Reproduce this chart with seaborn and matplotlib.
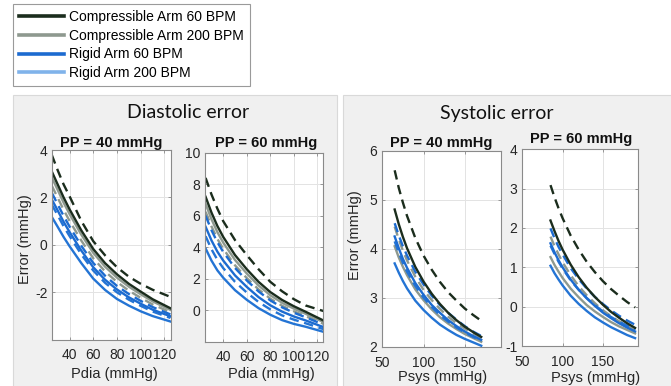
import matplotlib
matplotlib.use("Agg")
import matplotlib.pyplot as plt
import seaborn as sns
import pandas as pd
from matplotlib.lines import Line2D
from matplotlib.patches import Rectangle

plt.rcParams['font.family'] = ['Liberation Sans', 'DejaVu Sans']
plt.rcParams['axes.unicode_minus'] = False

# ---------------- data ----------------
legend_labels = ["Compressible Arm 60 BPM", "Compressible Arm 200 BPM",
                 "Rigid Arm 60 BPM", "Rigid Arm 200 BPM"]
panel_titles = ["Diastolic error", "Systolic error"]
sub_titles = ["PP = 40 mmHg", "PP = 60 mmHg", "PP = 40 mmHg", "PP = 60 mmHg"]
x_labels = ["Pdia (mmHg)", "Pdia (mmHg)", "Psys (mmHg)", "Psys (mmHg)"]
y_label = "Error (mmHg)"

pdia = [25, 30, 35, 40, 50, 60, 70, 80, 90, 100, 110, 125]
psys_pp40 = [65, 70, 75, 80, 90, 100, 110, 120, 130, 140, 150, 160, 170]
psys_pp60 = [85, 90, 95, 100, 110, 120, 130, 140, 150, 160, 170, 180, 190]

# Diastolic error, PP = 40
dia40_c60 = [3.10, 2.55, 2.00, 1.50, 0.60, -0.18, -0.78, -1.25, -1.65, -1.98, -2.30, -2.68]
dia40_c60_d = [3.80, 3.15, 2.55, 2.05, 1.00, 0.15, -0.45, -0.95, -1.35, -1.65, -1.90, -2.20]
dia40_c200 = [2.85, 2.32, 1.78, 1.30, 0.42, -0.34, -0.93, -1.39, -1.77, -2.09, -2.39, -2.75]
dia40_c200_d = [2.50, 1.99, 1.48, 1.01, 0.17, -0.57, -1.13, -1.57, -1.94, -2.24, -2.52, -2.85]
dia40_r60 = [1.92, 1.45, 0.97, 0.54, -0.25, -0.95, -1.48, -1.89, -2.22, -2.49, -2.74, -3.02]
dia40_r60_d = [2.20, 1.71, 1.22, 0.77, -0.05, -0.77, -1.31, -1.74, -2.08, -2.37, -2.63, -2.94]
dia40_r200 = [1.18, 0.76, 0.33, -0.06, -0.78, -1.43, -1.91, -2.29, -2.57, -2.81, -3.01, -3.24]
dia40_r200_d = [1.70, 1.25, 0.78, 0.37, -0.41, -1.09, -1.61, -2.01, -2.32, -2.58, -2.82, -3.09]

# Diastolic error, PP = 60
dia60_c60 = [7.20, 6.20, 5.35, 4.65, 3.50, 2.60, 1.80, 1.15, 0.65, 0.25, -0.10, -0.65]
dia60_c60_d = [8.40, 7.35, 6.45, 5.65, 4.45, 3.50, 2.60, 1.80, 1.20, 0.70, 0.30, -0.05]
dia60_c200 = [6.75, 5.78, 4.96, 4.29, 3.19, 2.33, 1.57, 0.95, 0.47, 0.10, -0.23, -0.75]
dia60_c200_d = [6.25, 5.32, 4.53, 3.90, 2.85, 2.04, 1.32, 0.73, 0.28, -0.07, -0.38, -0.86]
dia60_r60 = [5.30, 4.43, 3.72, 3.15, 2.21, 1.48, 0.83, 0.31, -0.09, -0.40, -0.65, -1.07]
dia60_r60_d = [6.00, 5.08, 4.32, 3.70, 2.68, 1.89, 1.19, 0.62, 0.18, -0.16, -0.45, -0.91]
dia60_r200 = [3.92, 3.15, 2.53, 2.06, 1.27, 0.66, 0.13, -0.29, -0.63, -0.87, -1.05, -1.37]
dia60_r200_d = [4.70, 3.87, 3.20, 2.67, 1.80, 1.12, 0.52, 0.05, -0.33, -0.60, -0.83, -1.20]

# Systolic error, PP = 40
sys40_c60 = [4.80, 4.50, 4.24, 4.01, 3.63, 3.33, 3.08, 2.87, 2.69, 2.54, 2.41, 2.30, 2.20]
sys40_c60_d = [5.60, 5.24, 4.94, 4.67, 4.22, 3.86, 3.57, 3.32, 3.11, 2.94, 2.78, 2.65, 2.53]
sys40_c200 = [4.05, 3.82, 3.63, 3.46, 3.17, 2.95, 2.76, 2.60, 2.47, 2.36, 2.26, 2.18, 2.10]
sys40_c200_d = [4.45, 4.19, 3.96, 3.76, 3.43, 3.16, 2.95, 2.77, 2.61, 2.48, 2.37, 2.27, 2.18]
sys40_r60 = [4.25, 4.01, 3.79, 3.61, 3.30, 3.06, 2.85, 2.69, 2.54, 2.42, 2.31, 2.22, 2.14]
sys40_r60_d = [4.52, 4.27, 4.05, 3.86, 3.53, 3.27, 3.04, 2.85, 2.69, 2.55, 2.42, 2.31, 2.22]
sys40_r200 = [3.70, 3.51, 3.34, 3.19, 2.94, 2.75, 2.59, 2.45, 2.34, 2.24, 2.16, 2.09, 2.02]
sys40_r200_d = [4.15, 3.92, 3.71, 3.53, 3.24, 3.00, 2.81, 2.64, 2.51, 2.39, 2.29, 2.20, 2.12]

# Systolic error, PP = 60
sys60_c60 = [2.19, 1.92, 1.67, 1.45, 1.07, 0.75, 0.48, 0.25, 0.05, -0.13, -0.28, -0.42, -0.54]
sys60_c60_d = [3.09, 2.78, 2.50, 2.25, 1.81, 1.45, 1.14, 0.88, 0.65, 0.45, 0.28, 0.12, -0.02]
sys60_c200 = [1.26, 1.06, 0.89, 0.73, 0.46, 0.24, 0.04, -0.12, -0.26, -0.39, -0.50, -0.59, -0.68]
sys60_c200_d = [1.78, 1.54, 1.33, 1.13, 0.80, 0.52, 0.29, 0.09, -0.09, -0.24, -0.37, -0.49, -0.60]
sys60_r60 = [1.61, 1.38, 1.18, 1.00, 0.69, 0.43, 0.21, 0.02, -0.15, -0.29, -0.42, -0.53, -0.63]
sys60_r60_d = [1.99, 1.74, 1.52, 1.33, 0.98, 0.70, 0.46, 0.25, 0.07, -0.09, -0.23, -0.35, -0.46]
sys60_r200 = [1.04, 0.85, 0.69, 0.54, 0.28, 0.07, -0.11, -0.27, -0.40, -0.52, -0.62, -0.72, -0.80]
sys60_r200_d = [1.55, 1.34, 1.14, 0.97, 0.67, 0.43, 0.22, 0.04, -0.12, -0.26, -0.38, -0.48, -0.58]

x_ticks = [[40, 60, 80, 100, 120], [40, 60, 80, 100, 120], [50, 100, 150], [50, 100, 150]]
y_ticks = [[-2, 0, 2, 4], [0, 2, 4, 6, 8, 10], [2, 3, 4, 5, 6], [-1, 0, 1, 2, 3, 4]]

# ---------------- styling ----------------
W, H = 671, 386
c_dark, c_gray, c_blue, c_blue2, c_light = "#1b2d1d", "#8e998f", "#1c6bd0", "#2474d4", "#80b3ea"
legend_colors = [c_dark, c_gray, c_blue, c_light]
dash_on = (4.0, 2.4)

fig = plt.figure(figsize=(W / 100, H / 100), dpi=100)
fig.patch.set_facecolor("white")


def px_box(l, t, r, b):
    return [l / W, 1 - b / H, (r - l) / W, (b - t) / H]


# gray panels
for (l, t, r, b) in [(12.5, 95, 337, 390), (343, 95, 675, 390)]:
    fig.add_artist(Rectangle((l / W, 1 - b / H), (r - l) / W, (b - t) / H,
                             transform=fig.transFigure, facecolor="#f0f0f0",
                             edgecolor="#d9d9d9", linewidth=0.8, zorder=0))

panels = [
    (pdia, [("C200", False, dia40_c200), ("C200d", True, dia40_c200_d),
            ("R200", False, dia40_r200), ("R200d", True, dia40_r200_d),
            ("R60", False, dia40_r60), ("R60d", True, dia40_r60_d),
            ("C60", False, dia40_c60), ("C60d", True, dia40_c60_d)]),
    (pdia, [("C200", False, dia60_c200), ("C200d", True, dia60_c200_d),
            ("R200", False, dia60_r200), ("R200d", True, dia60_r200_d),
            ("R60", False, dia60_r60), ("R60d", True, dia60_r60_d),
            ("C60", False, dia60_c60), ("C60d", True, dia60_c60_d)]),
    (psys_pp40, [("C200", False, sys40_c200), ("C200d", True, sys40_c200_d),
                 ("R200", False, sys40_r200), ("R200d", True, sys40_r200_d),
                 ("R60", False, sys40_r60), ("R60d", True, sys40_r60_d),
                 ("C60", False, sys40_c60), ("C60d", True, sys40_c60_d)]),
    (psys_pp60, [("C200", False, sys60_c200), ("C200d", True, sys60_c200_d),
                 ("R200", False, sys60_r200), ("R200d", True, sys60_r200_d),
                 ("R60", False, sys60_r60), ("R60d", True, sys60_r60_d),
                 ("C60", False, sys60_c60), ("C60d", True, sys60_c60_d)]),
]
palette = {"C60": c_dark, "C60d": c_dark, "C200": c_gray, "C200d": c_gray,
           "R60": c_blue, "R60d": c_blue, "R200": c_blue2, "R200d": c_blue2}
dashes = {k: (dash_on if k.endswith("d") else "") for k in palette}

boxes = [px_box(52.3, 150, 171, 339.5), px_box(205, 152.7, 322.7, 341.7),
         px_box(382.3, 150.7, 501, 346.7), px_box(522.3, 149.3, 638.3, 346)]
xlims = [(25.5, 125.5), (24.5, 124.5), (50, 194), (50, 194)]
ylims = [(-4, 4), (-2, 10), (2, 6), (-1, 4)]
xpads = [6, 6, 6.5, 6.5]

for i, (xs, curves) in enumerate(panels):
    ax = fig.add_axes(boxes[i])
    rows = []
    for name, dashed, vals in curves:
        for xv, yv in zip(xs, vals):
            rows.append({"x": xv, "y": yv, "curve": name})
    df = pd.DataFrame(rows)
    order = [c[0] for c in curves]
    sns.lineplot(data=df, x="x", y="y", hue="curve", style="curve",
                 hue_order=order, style_order=order, palette=palette,
                 dashes=dashes, estimator=None, sort=False, legend=False,
                 linewidth=1.7, ax=ax)
    ax.set_xlim(*xlims[i])
    ax.set_ylim(*ylims[i])
    ax.set_xticks(x_ticks[i])
    ax.set_yticks(y_ticks[i])
    ax.set_xlabel("")
    ax.set_ylabel("")
    ax.set_facecolor("white")
    ax.grid(True, color="#e3e3e3", linewidth=0.7)
    ax.set_axisbelow(True)
    for s in ax.spines.values():
        s.set_color("#8a8a8a")
        s.set_linewidth(0.8)
    ax.tick_params(direction="in", length=2.5, width=0.6, color="#8a8a8a",
                   top=True, right=True, labelsize=10, labelcolor="#262626")
    ax.tick_params(axis="y", pad=3.5)
    ax.tick_params(axis="x", pad=xpads[i])

# texts
fig.text(188 / W, 1 - 113 / H, panel_titles[0], fontfamily=["Lato", "DejaVu Sans"],
         fontsize=14, ha="center", va="center", color="#111111")
fig.text(497 / W, 1 - 113 / H, panel_titles[1], fontfamily=["Lato", "DejaVu Sans"],
         fontsize=14, ha="center", va="center", color="#111111")
for (cx, cy), t in zip([(111.5, 143), (266.5, 142.7), (441, 142.7), (581, 139.3)], sub_titles):
    fig.text(cx / W, 1 - cy / H, t, fontsize=10.5, fontweight="bold",
             ha="center", va="center", color="#111111")
for (cx, cy), t in zip([(114, 374), (271.5, 374), (442.5, 377), (596, 378)], x_labels):
    fig.text(cx / W, 1 - cy / H, t, fontsize=10.5, ha="center", va="center", color="#262626")
for (cx, cy) in [(25, 239), (355, 235)]:
    fig.text(cx / W, 1 - cy / H, y_label, fontsize=10.5, ha="center", va="center",
             rotation=90, color="#262626")

# legend
handles = [Line2D([0], [0], color=c, linewidth=2.6) for c in legend_colors]
leg = fig.legend(handles, legend_labels, loc="upper left",
                 bbox_to_anchor=(13 / W, 1 - 4 / H), frameon=True, fancybox=False,
                 edgecolor="#9a9a9a", framealpha=1, fontsize=10, handlelength=3.2,
                 handletextpad=0.4, labelspacing=0.33, borderpad=0.45, borderaxespad=0)
leg.get_frame().set_linewidth(0.8)

fig.savefig("out.png", dpi=100, facecolor="white")
